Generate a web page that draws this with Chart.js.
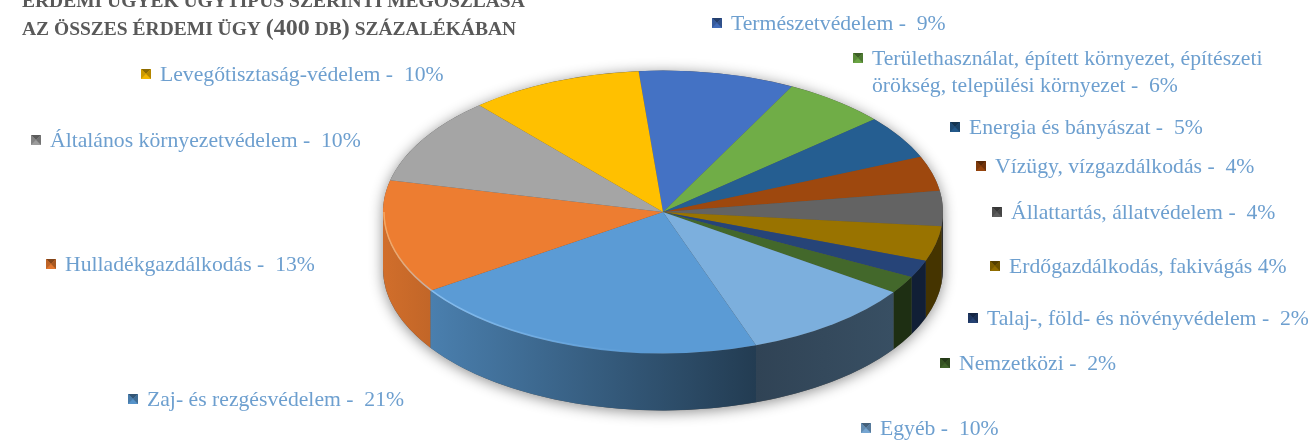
<!DOCTYPE html>
<html lang="hu">
<head>
<meta charset="utf-8">
<title>Érdemi ügyek ügytípus szerinti megoszlása</title>
<script src="https://cdn.jsdelivr.net/npm/chart.js@4/dist/chart.umd.min.js"></script>
<style>
    html, body { margin: 0; padding: 0; background: #fff; }
    canvas { display: block; }
</style>
</head>
<body>
<canvas id="pie" width="1313" height="440"></canvas>
<script>
// Data, clockwise from the top of the pie
const categories = [
    'Természetvédelem', 'Területhasználat, épített környezet, építészeti örökség, települési környezet',
    'Energia és bányászat', 'Vízügy, vízgazdálkodás', 'Állattartás, állatvédelem',
    'Erdőgazdálkodás, fakivágás', 'Talaj-, föld- és növényvédelem', 'Nemzetközi', 'Egyéb',
    'Zaj- és rezgésvédelem', 'Hulladékgazdálkodás', 'Általános környezetvédelem', 'Levegőtisztaság-védelem'
];
const shares = [9, 6, 5, 4, 4, 4, 2, 2, 10, 21, 13, 10, 10];
const sliceColors = [
    '#4472C4', '#70AD47', '#255E91', '#9E480E', '#636363', '#997300', '#264478',
    '#43682B', '#7CAFDD', '#5B9BD5', '#ED7D31', '#A5A5A5', '#FFC000'
];
const labelLines = [
    ['Természetvédelem -  9%'],
    ['Területhasználat, épített környezet, építészeti', 'örökség, települési környezet -  6%'],
    ['Energia és bányászat -  5%'],
    ['Vízügy, vízgazdálkodás -  4%'],
    ['Állattartás, állatvédelem -  4%'],
    ['Erdőgazdálkodás, fakivágás 4%'],
    ['Talaj-, föld- és növényvédelem -  2%'],
    ['Nemzetközi -  2%'],
    ['Egyéb -  10%'],
    ['Zaj- és rezgésvédelem -  21%'],
    ['Hulladékgazdálkodás -  13%'],
    ['Általános környezetvédelem -  10%'],
    ['Levegőtisztaság-védelem -  10%']
];
// [text x, first baseline] of each label
const labelAnchors = [
    [731, 30], [872, 65], [969, 134], [995, 173], [1011, 219], [1009, 273], [987, 325],
    [959, 370], [880, 435], [147, 406], [65, 271], [50, 147], [160, 81]
];
const titleLines = [
    [['ÉRDEMI ÜGYEK ÜGYTÍPUS SZERINTI MEGOSZLÁSA', 0]],
    [['AZ ÖSSZES ÉRDEMI ÜGY ', 0], ['(400', 1], [' DB', 0], [')', 1], [' SZÁZALÉKÁBAN', 0]]
];

const SQUASH = 0.505;   // top face is seen at an angle
const DEPTH = 57;       // height of the side wall

function shade(hex, f) {
    const n = parseInt(hex.slice(1), 16);
    const c = [n >> 16, (n >> 8) & 255, n & 255].map(v => Math.round(v * f));
    return `rgb(${c[0]},${c[1]},${c[2]})`;
}

// how dark the wall is at a given x, strongest toward the lower right
function wallFactor(x) {
    if (x < 759) return 0.88 - (x - 383) / 376 * 0.5;
    return 0.45;
}

function rimPoint(arc, angle) {
    return [arc.x + arc.outerRadius * Math.cos(angle), arc.y + arc.outerRadius * SQUASH * Math.sin(angle)];
}

// only the part of the rim facing the viewer (canvas angle 0..PI)
function frontRange(arc) {
    const twoPi = Math.PI * 2;
    let a = arc.startAngle, b = arc.endAngle;
    while (a < 0) { a += twoPi; b += twoPi; }
    while (a >= twoPi) { a -= twoPi; b -= twoPi; }
    if (a >= Math.PI && b > twoPi) { a = twoPi; }
    const end = a >= twoPi ? Math.min(b, twoPi + Math.PI) : Math.min(b, Math.PI);
    return end > a ? [a, end] : null;
}

const pie3d = {
    id: 'pie3d',
    beforeDatasetDraw(chart) {
        const ctx = chart.ctx;
        const arcs = chart.getDatasetMeta(0).data;
        const first = arcs[0];

        // soft shadow under the whole body
        ctx.save();
        ctx.shadowColor = 'rgba(0,0,0,0.45)';
        ctx.shadowBlur = 14;
        ctx.shadowOffsetY = 2;
        ctx.fillStyle = '#555';
        ctx.beginPath();
        ctx.ellipse(first.x, first.y + DEPTH, first.outerRadius, first.outerRadius * SQUASH, 0, 0, Math.PI);
        ctx.ellipse(first.x, first.y, first.outerRadius, first.outerRadius * SQUASH, 0, Math.PI, 0);
        ctx.closePath();
        ctx.fill();
        ctx.restore();

        arcs.forEach((arc, i) => {
            const range = frontRange(arc);
            if (!range) return;
            const [a, b] = range;
            const p1 = rimPoint(arc, a), p2 = rimPoint(arc, b);
            const grad = ctx.createLinearGradient(p2[0], 0, p1[0], 0);
            grad.addColorStop(0, shade(sliceColors[i], wallFactor(p2[0])));
            grad.addColorStop(1, shade(sliceColors[i], wallFactor(p1[0])));
            ctx.fillStyle = grad;
            ctx.beginPath();
            ctx.moveTo(p1[0], p1[1]);
            ctx.ellipse(arc.x, arc.y, arc.outerRadius, arc.outerRadius * SQUASH, 0, a, b);
            ctx.lineTo(p2[0], p2[1] + DEPTH);
            ctx.ellipse(arc.x, arc.y + DEPTH, arc.outerRadius, arc.outerRadius * SQUASH, 0, b, a, true);
            ctx.closePath();
            ctx.fill();
        });

        // squash the library's own arcs into the top face
        ctx.save();
        ctx.translate(first.x, first.y);
        ctx.scale(1, SQUASH);
        ctx.translate(-first.x, -first.y);
    },
    afterDatasetDraw(chart) {
        const ctx = chart.ctx;
        ctx.restore();

        // bright bevel along the front edge, fading to the right
        const first = chart.getDatasetMeta(0).data[0];
        const glow = ctx.createLinearGradient(383, 0, 640, 0);
        glow.addColorStop(0, 'rgba(255,190,120,0.65)');
        glow.addColorStop(0.2, 'rgba(160,210,255,0.6)');
        glow.addColorStop(1, 'rgba(160,210,255,0)');
        ctx.strokeStyle = glow;
        ctx.lineWidth = 1.5;
        ctx.beginPath();
        ctx.ellipse(first.x, first.y, first.outerRadius - 1, first.outerRadius * SQUASH - 1, 0, Math.PI / 2, Math.PI);
        ctx.stroke();
    }
};

function drawMarker(ctx, x, y, color) {
    const s = 10;
    const cx = x + s / 2, cy = y + s / 2;
    const tri = (x1, y1, x2, y2, fill) => {
        ctx.fillStyle = fill;
        ctx.beginPath();
        ctx.moveTo(x1, y1);
        ctx.lineTo(x2, y2);
        ctx.lineTo(cx, cy);
        ctx.closePath();
        ctx.fill();
    };
    ctx.fillStyle = color;
    ctx.fillRect(x, y, s, s);
    tri(x, y, x + s, y, shade(color, 0.55));
    tri(x, y + s, x + s, y + s, shade(color, 0.95));
    tri(x, y, x, y + s, shade(color, 0.8));
    tri(x + s, y, x + s, y + s, shade(color, 0.7));
}

const pieLabels = {
    id: 'pieLabels',
    afterDraw(chart) {
        const ctx = chart.ctx;
        ctx.save();
        ctx.textBaseline = 'alphabetic';
        ctx.textAlign = 'left';

        // title runs, the digits and closing bracket are a size larger
        ctx.fillStyle = '#595959';
        titleLines.forEach((runs, row) => {
            let x = 22;
            const y = 7 + row * 28;
            runs.forEach(([text, big]) => {
                ctx.font = `bold ${big ? 24 : 19.5}px "Liberation Serif"`;
                ctx.fillText(text, x, y);
                x += ctx.measureText(text).width;
            });
        });

        ctx.font = '21.7px "Liberation Serif"';
        labelLines.forEach((lines, i) => {
            const [x, y] = labelAnchors[i];
            drawMarker(ctx, x - 19, y - 12, sliceColors[i]);
            ctx.fillStyle = '#6d9fcf';
            lines.forEach((line, row) => ctx.fillText(line, x, y + row * 27));
        });
        ctx.restore();
    }
};

new Chart(document.getElementById('pie'), {
    type: 'pie',
    data: {
        labels: categories,
        datasets: [{
            data: shares,
            backgroundColor: sliceColors,
            borderWidth: 0,
            clip: false
        }]
    },
    options: {
        responsive: false,
        animation: false,
        rotation: -5,
        radius: 280,
        layout: { padding: { left: 13, bottom: 16 } },
        plugins: { legend: { display: false }, tooltip: { enabled: false } }
    },
    plugins: [pie3d, pieLabels]
});
</script>
</body>
</html>
